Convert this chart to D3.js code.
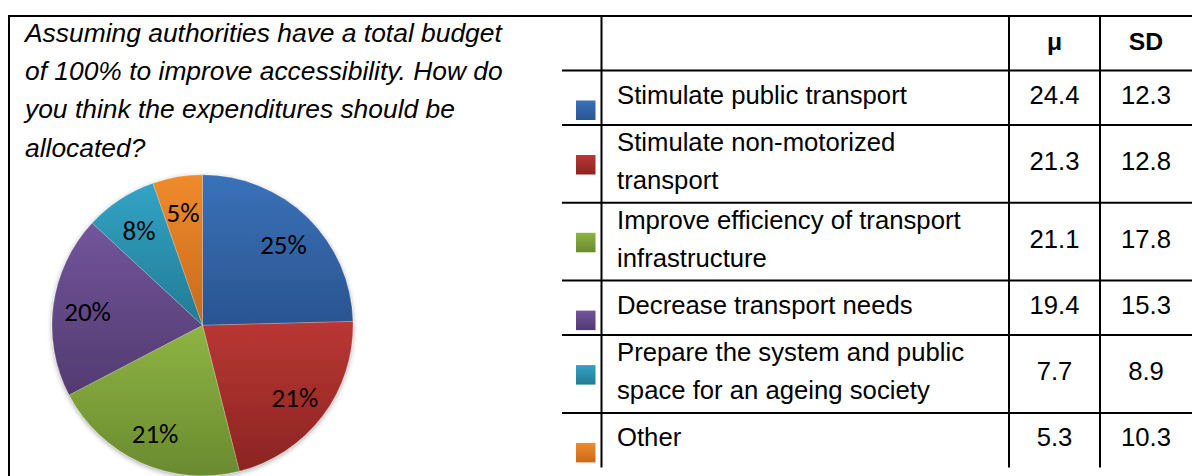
<!DOCTYPE html>
<html>
<head>
<meta charset="utf-8">
<script src="https://cdn.jsdelivr.net/npm/d3@7"></script>
<style>
  html, body { margin: 0; padding: 0; background: #fff; }
  svg { display: block; }
</style>
</head>
<body>
<div id="chart"></div>
<script>
// question text, one entry per printed line
var questionLines = [
    "Assuming authorities have a total budget",
    "of 100% to improve accessibility. How do",
    "you think the expenditures should be",
    "allocated?"
];

// table rows (label broken into its printed lines)
var categories = [
    ["Stimulate public transport"],
    ["Stimulate non-motorized", "transport"],
    ["Improve efficiency of transport", "infrastructure"],
    ["Decrease transport needs"],
    ["Prepare the system and public", "space for an ageing society"],
    ["Other"]
];
var means = [24.4, 21.3, 21.1, 19.4, 7.7, 5.3];
var sds = [12.3, 12.8, 17.8, 15.3, 8.9, 10.3];
var headers = ["", "\u03bc", "SD"];

// office style slice colours, light top -> dark bottom
var colorTop = ["#3a72b9", "#ba3734", "#8eb443", "#72559b", "#32a3c5", "#f08b2c"];
var colorBot = ["#2a5490", "#8b2422", "#6a8a2f", "#523a70", "#237b93", "#c76a1c"];

var W = 1192, H = 476;

var svg = d3.select("#chart").append("svg")
    .attr("width", W)
    .attr("height", H);

var defs = svg.append("defs");

colorTop.forEach(function(c, i) {
    var g = defs.append("linearGradient")
        .attr("id", "grad" + i)
        .attr("x1", 0).attr("y1", 0)
        .attr("x2", 0).attr("y2", 1);
    g.append("stop").attr("offset", "0%").attr("stop-color", c);
    g.append("stop").attr("offset", "100%").attr("stop-color", colorBot[i]);
});

var shadow = defs.append("filter")
    .attr("id", "shadow")
    .attr("x", "-10%").attr("y", "-10%")
    .attr("width", "120%").attr("height", "120%");
shadow.append("feDropShadow")
    .attr("dx", 0).attr("dy", 1.5)
    .attr("stdDeviation", 2.5)
    .attr("flood-color", "#000")
    .attr("flood-opacity", 0.35);

// ---- question ----
svg.append("g")
    .selectAll("text")
    .data(questionLines)
    .join("text")
    .attr("x", 25)
    .attr("y", function(d, i) { return 41.7 + i * 38.3; })
    .attr("font-family", "'Liberation Sans', Arial, sans-serif")
    .attr("font-style", "italic")
    .attr("font-size", 26.4)
    .attr("fill", "#000")
    .text(function(d) { return d; });

// ---- pie ----
var total = d3.sum(means);
var radius = 150.5;

var pie = d3.pie().sort(null).value(function(d) { return d; });
var arcs = pie(means);

var arc = d3.arc().innerRadius(0).outerRadius(radius);
var labelArc = d3.arc().innerRadius(116).outerRadius(116);

var pieG = svg.append("g")
    .attr("transform", "translate(202.5,325.3)");

pieG.append("g")
    .attr("filter", "url(#shadow)")
    .selectAll("path")
    .data(arcs)
    .join("path")
    .attr("d", arc)
    .attr("fill", function(d, i) { return "url(#grad" + i + ")"; })
    .attr("stroke", "rgba(255,255,255,0.35)")
    .attr("stroke-width", 0.6);

var pct = d3.format(".0%");
pieG.append("g")
    .selectAll("text")
    .data(arcs)
    .join("text")
    .attr("transform", function(d) { return "translate(" + labelArc.centroid(d) + ")"; })
    .attr("text-anchor", "middle")
    .attr("dy", "0.42em")
    .attr("font-family", "Calibri, Carlito, Lato, sans-serif")
    .attr("font-size", 27)
    .attr("fill", "#000")
    .text(function(d) { return pct(d.value / total); });

// ---- table ----
var singleH = 54.5, doubleH = 77.8;
var rowTops = [16];
var headerH = 54.5;
var yCursor = 16 + headerH;
categories.forEach(function(c) {
    rowTops.push(yCursor);
    yCursor += c.length > 1 ? doubleH : singleH;
});
var tableBottom = yCursor;

// column borders: swatch | label | mu | sd
var colEdges = [562, 601.5, 1009, 1100, 1192];
var x = d3.scaleOrdinal()
    .domain(["swatch", "label", "mu", "sd"])
    .range(colEdges.slice(0, 4));

var lines = svg.append("g")
    .attr("stroke", "#000")
    .attr("stroke-width", 2)
    .attr("fill", "none");

// outer top rule and left border of the question cell
lines.append("line").attr("x1", 8).attr("x2", W).attr("y1", 16).attr("y2", 16);
lines.append("line").attr("x1", 9).attr("x2", 9).attr("y1", 16).attr("y2", H);

// row rules
lines.selectAll("line.row")
    .data(rowTops.slice(1))
    .join("line")
    .attr("class", "row")
    .attr("x1", x("swatch")).attr("x2", W)
    .attr("y1", function(d) { return d; })
    .attr("y2", function(d) { return d; });

// column rules
lines.selectAll("line.col")
    .data([x("label"), x("mu"), x("sd")])
    .join("line")
    .attr("class", "col")
    .attr("x1", function(d) { return d; })
    .attr("x2", function(d) { return d; })
    .attr("y1", 16).attr("y2", tableBottom);

var font = "'Liberation Sans', Arial, sans-serif";
var fs = 25.7;
var muC = (colEdges[2] + colEdges[3]) / 2;
var sdC = (colEdges[3] + colEdges[4]) / 2;

// header
svg.append("g")
    .selectAll("text")
    .data(headers.slice(1))
    .join("text")
    .attr("x", function(d, i) { return i === 0 ? muC : sdC; })
    .attr("y", 16 + headerH / 2 + 6.5)
    .attr("text-anchor", "middle")
    .attr("font-family", font)
    .attr("font-weight", "bold")
    .attr("font-size", fs - 1)
    .text(function(d) { return d; });

var rows = svg.append("g")
    .selectAll("g")
    .data(categories)
    .join("g")
    .attr("transform", function(d, i) { return "translate(0," + rowTops[i + 1] + ")"; });

rows.append("rect")
    .attr("x", 576)
    .attr("y", 30)
    .attr("width", 19.5)
    .attr("height", 19.5)
    .attr("fill", function(d, i) { return "url(#grad" + i + ")"; });

rows.each(function(d, i) {
    var g = d3.select(this);
    var h = d.length > 1 ? doubleH : singleH;
    var base = h / 2 + 6.2;
    g.selectAll("text.lbl")
        .data(d)
        .join("text")
        .attr("class", "lbl")
        .attr("x", 617)
        .attr("y", function(t, j) { return base + (j - (d.length - 1) / 2) * 38; })
        .attr("font-family", font)
        .attr("font-size", fs)
        .text(function(t) { return t; });
    g.append("text")
        .attr("x", muC)
        .attr("y", base)
        .attr("text-anchor", "middle")
        .attr("font-family", font)
        .attr("font-size", fs)
        .text(means[i]);
    g.append("text")
        .attr("x", sdC)
        .attr("y", base)
        .attr("text-anchor", "middle")
        .attr("font-family", font)
        .attr("font-size", fs)
        .text(sds[i]);
});
</script>
</body>
</html>
